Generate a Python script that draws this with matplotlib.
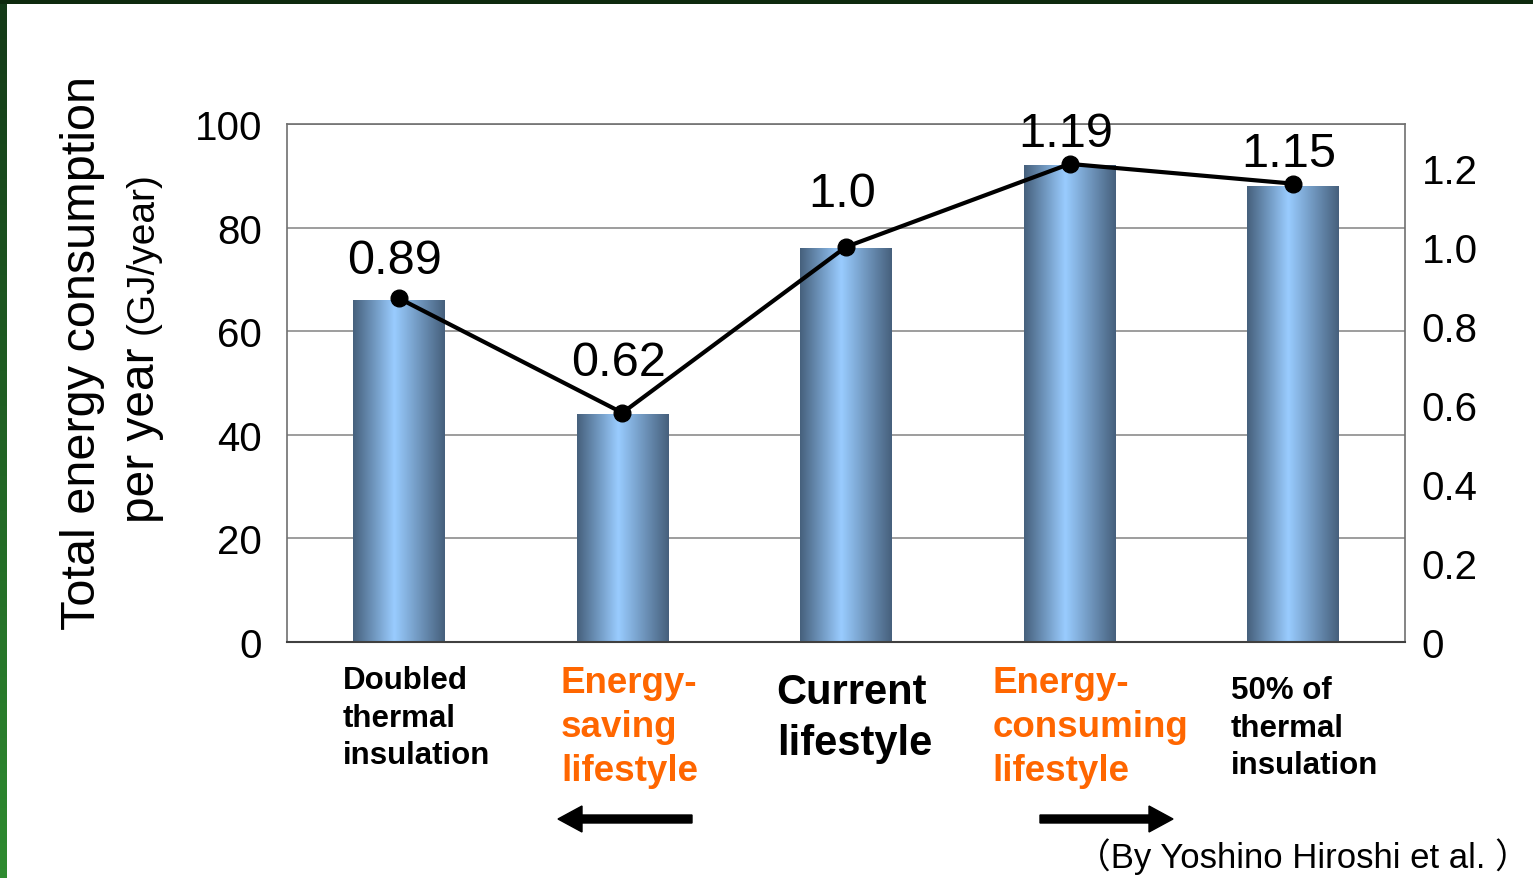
import numpy as np
import matplotlib
matplotlib.use('Agg')
import matplotlib.pyplot as plt
import matplotlib.patches as mpatches
from matplotlib.colors import LinearSegmentedColormap
from matplotlib.transforms import IdentityTransform, blended_transform_factory

# --- datos ---
categories = ['Doubled\nthermal\ninsulation',
              'Energy-\nsaving\nlifestyle',
              'Current\nlifestyle',
              'Energy-\nconsuming\nlifestyle',
              '50% of\nthermal\ninsulation']
energy_gj = [66, 44, 76, 92, 88]            # barras, eje izquierdo
ratio_values = [0.87, 0.58, 1.0, 1.21, 1.16]  # linea, eje derecho
ratio_labels = ['0.89', '0.62', '1.0', '1.19', '1.15']
left_ticks = [0, 20, 40, 60, 80, 100]
right_ticks = [0, 0.2, 0.4, 0.6, 0.8, 1.0, 1.2]
right_tick_labels = ['0', '0.2', '0.4', '0.6', '0.8', '1.0', '1.2']

# estilo de las etiquetas de categoria
cat_colors = ['black', '#FF6600', 'black', '#FF6600', 'black']
cat_sizes = [22.5, 26.5, 30, 26.5, 22.5]
cat_dx = [-0.25, -0.275, -0.31, -0.345, -0.28]
cat_top = [0.242, 0.242, 0.234, 0.242, 0.231]
label_offsets = [38, 50, 53, 30, 30]   # pixeles por encima del punto

plt.rcParams['font.family'] = ['Liberation Sans', 'Noto Sans CJK JP', 'DejaVu Sans']

fig = plt.figure(figsize=(15.33, 8.79), dpi=100)
fig.patch.set_facecolor('white')

# marco verde (barra superior y franja izquierda)
fig.add_artist(mpatches.Rectangle((0, 874), 1533, 5, transform=IdentityTransform(),
                                  facecolor='#0e2a0e', edgecolor='none'))
ax_strip = fig.add_axes([0, 0, 7 / 1533, 874 / 879])
strip_cmap = LinearSegmentedColormap.from_list('verde', ['#2e8b30', '#143a18'])
ax_strip.imshow(np.linspace(0, 1, 100).reshape(-1, 1), aspect='auto', cmap=strip_cmap,
                origin='lower')
ax_strip.axis('off')

ax = fig.add_axes([287 / 1533, 1 - 643 / 879, 1118 / 1533, 518 / 879])
x = np.arange(len(categories))

bars = ax.bar(x, energy_gj, width=0.41, facecolor='none', edgecolor='none', zorder=2)

# gradiente horizontal dentro de cada barra
bar_cmap = LinearSegmentedColormap.from_list(
    'barra', [(0, '#46607c'), (0.45, '#99ccff'), (1, '#46607c')])
grad = np.linspace(0, 1, 256).reshape(1, -1)
for b in bars:
    x0, w, h = b.get_x(), b.get_width(), b.get_height()
    im = ax.imshow(grad, extent=[x0, x0 + w, 0, h], aspect='auto', cmap=bar_cmap,
                   zorder=2, interpolation='bicubic')
    im.set_clip_path(b)

ax.set_xlim(-0.5, len(categories) - 0.5)
ax.set_ylim(0, 100)
ax.set_yticks(left_ticks)
ax.set_xticks([])
ax.tick_params(axis='y', length=0, pad=18, labelsize=29)
ax.yaxis.grid(True, color='#8c8c8c', linewidth=1.2, zorder=0)
ax.set_axisbelow(True)
for s in ['left', 'top', 'right']:
    ax.spines[s].set_color('#707070')
    ax.spines[s].set_linewidth(1.2)
ax.spines['bottom'].set_color('#404040')
ax.spines['bottom'].set_linewidth(1.5)

# eje derecho con la linea
ax2 = ax.twinx()
ax2.set_ylim(0, 1.311)
ax2.set_yticks(right_ticks)
ax2.set_yticklabels(right_tick_labels)
ax2.tick_params(axis='y', length=0, pad=12, labelsize=29)
for s in ax2.spines.values():
    s.set_visible(False)
ax2.plot(x, ratio_values, color='black', linewidth=3, marker='o', markersize=12,
         zorder=5, clip_on=False)
for xi, v, lab, off in zip(x, ratio_values, ratio_labels, label_offsets):
    ax2.annotate(lab, (xi, v), xytext=(-4, off), textcoords='offset pixels',
                 ha='center', va='center', fontsize=35)

# etiquetas de categoria
trans = blended_transform_factory(ax.transData, fig.transFigure)
for xi, name, c, fs, dx, ty in zip(x, categories, cat_colors, cat_sizes, cat_dx, cat_top):
    ax.text(xi + dx, ty, name, transform=trans, ha='left', va='top', color=c,
            fontsize=fs, fontweight='bold', linespacing=1.33)

# titulo del eje y
fig.text(0.054, 0.598, 'Total energy consumption', rotation=90, ha='center',
         va='center', fontsize=35)
fig.text(0.092, 1 - 523 / 879, 'per year', rotation=90, ha='center', va='bottom',
         fontsize=34.5)
fig.text(0.093, 1 - 172 / 879, '(GJ/year)', rotation=90, ha='center', va='top',
         fontsize=28)

# flechas
fig.add_artist(mpatches.FancyArrow(692, 59, -134, 0, width=8, head_width=26,
                                   head_length=24, length_includes_head=True,
                                   transform=IdentityTransform(), color='black'))
fig.add_artist(mpatches.FancyArrow(1040, 59, 133, 0, width=8, head_width=26,
                                   head_length=24, length_includes_head=True,
                                   transform=IdentityTransform(), color='black'))

fig.text(0.998, 0.025, '（By Yoshino Hiroshi et al. ）', ha='right', va='center',
         fontsize=25)

fig.savefig('out.png', dpi=100)
